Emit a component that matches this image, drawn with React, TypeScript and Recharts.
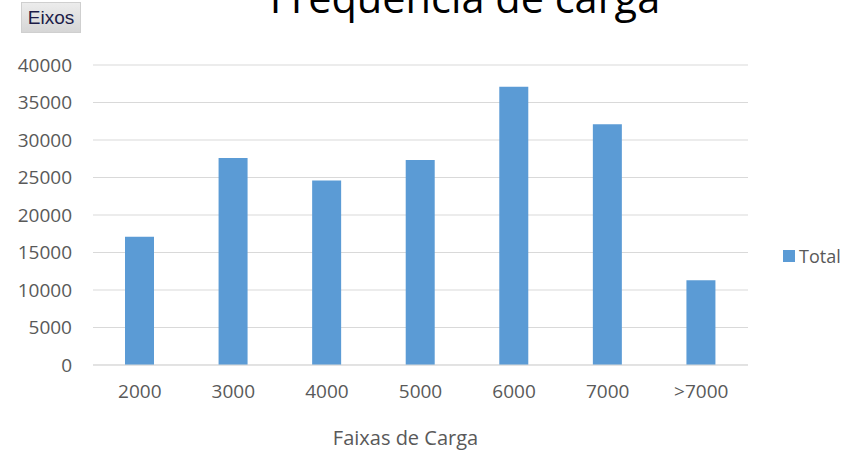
import React from 'react';
import { BarChart, Bar, XAxis, YAxis, CartesianGrid, Legend } from 'recharts';

const categories = ['2000', '3000', '4000', '5000', '6000', '7000', '>7000'];
const totals = [17100, 27600, 24600, 27350, 37100, 32100, 11300];
const yTicks = [0, 5000, 10000, 15000, 20000, 25000, 30000, 35000, 40000];

const data = categories.map((c, i) => ({ faixa: c, Total: totals[i] }));

const FONT = '"Open Sans", sans-serif';
const GREY = '#595959';

const LegendContent = () => (
  <div style={{ display: 'flex', alignItems: 'center', fontFamily: FONT, fontSize: 18, color: GREY }}>
    <span style={{ display: 'inline-block', width: 12, height: 12, background: '#5b9bd5', marginRight: 4 }} />
    <span>Total</span>
  </div>
);

const AxisTitle = (props: any) => {
  const vb = props.viewBox || {};
  const cx = vb.x + vb.width / 2 - 15;
  return (
    <text x={cx} y={445} textAnchor="middle" fontFamily={FONT} fontSize={20} fill={GREY}>
      Faixas de Carga
    </text>
  );
};

export default function App() {
  return (
    <div style={{ position: 'absolute', left: 0, top: 0, width: 846, height: 450, background: '#fff' }}>
      <BarChart
        width={846}
        height={450}
        data={data}
        margin={{ top: 65, right: 35, bottom: 0, left: 0 }}
      >
        <CartesianGrid vertical={false} stroke="#d9d9d9" />
        <XAxis
          dataKey="faixa"
          height={85}
          tickLine={false}
          tickSize={0}
          tickMargin={20}
          axisLine={{ stroke: '#d9d9d9' }}
          tick={{ fill: GREY, fontSize: 19, fontFamily: FONT }}
          label={<AxisTitle />}
        />
        <YAxis
          width={93}
          domain={[0, 40000]}
          ticks={yTicks}
          interval={0}
          axisLine={false}
          tickLine={false}
          tickSize={0}
          tickMargin={21}
          tick={{ fill: GREY, fontSize: 19, fontFamily: FONT }}
        />
        <Legend
          content={<LegendContent />}
          layout="vertical"
          verticalAlign="top"
          align="right"
          wrapperStyle={{ left: 783, top: 244, width: 63 }}
        />
        <Bar dataKey="Total" fill="#5b9bd5" barSize={29} isAnimationActive={false} />
      </BarChart>
      <svg
        width={846}
        height={450}
        style={{ position: 'absolute', left: 0, top: 0, pointerEvents: 'none' }}
      >
        <text x={465} y={13} textAnchor="middle" fontFamily={FONT} fontSize={41.5} fill="#000">
          Frequência de carga
        </text>
      </svg>
      <div
        style={{
          position: 'absolute',
          left: 21,
          top: 2,
          width: 60,
          height: 31,
          boxSizing: 'border-box',
          border: '1px solid #cfcfcf',
          background: 'linear-gradient(#ececec, #d6d6d6)',
          color: '#1c1c48',
          fontFamily: '"Liberation Sans Narrow", "Liberation Sans", Arial, sans-serif',
          fontSize: 19,
          lineHeight: '29px',
          textAlign: 'center',
        }}
      >
        Eixos
      </div>
    </div>
  );
}
